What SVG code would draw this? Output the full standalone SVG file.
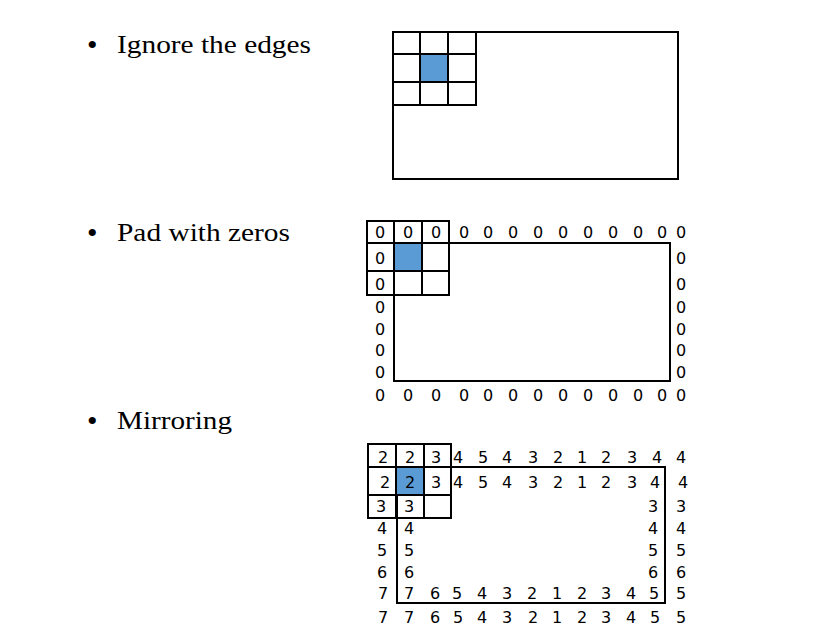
<svg xmlns="http://www.w3.org/2000/svg" width="815" height="638" viewBox="0 0 815 638">
<style>
.lbl{font-family:"Liberation Serif",serif;font-size:25px;fill:#000}
.bul{font-family:"Liberation Serif",serif;font-size:30px;fill:#000}
.d{font-family:"DejaVu Sans",Verdana,sans-serif;font-size:16px;fill:#000;text-anchor:middle}
.ln{fill:none;stroke:#000;stroke-width:2}
.blue{fill:#5b9bd5;stroke:#41719c;stroke-width:1.5}
</style>
<rect width="815" height="638" fill="#fff"/>
<g id="bullets">
<text class="bul" x="87" y="55">•</text>
<text class="lbl" x="117" y="53" textLength="194" lengthAdjust="spacingAndGlyphs">Ignore the edges</text>
<text class="bul" x="87" y="243">•</text>
<text class="lbl" x="117" y="241" textLength="173" lengthAdjust="spacingAndGlyphs">Pad with zeros</text>
<text class="bul" x="87" y="431">•</text>
<text class="lbl" x="117" y="429" textLength="115" lengthAdjust="spacingAndGlyphs">Mirroring</text>
</g>
<g id="panel-ignore">
<rect class="ln" x="393" y="32" width="285" height="147"/>
<rect class="blue" x="420" y="54" width="28" height="28"/>
<path class="ln" d="M393 32H476V105H393ZM420 32V105M448 32V105M393 54H476M393 82H476"/>
</g>
<g id="panel-zeros">
<rect class="ln" x="394" y="243" width="276" height="138"/>
<rect class="blue" x="394" y="243" width="28" height="28"/>
<path class="ln" d="M367 221H449V295H367ZM394 221V295M422 221V295M367 243H449M367 271H449"/>
<g class="d">
<text x="380" y="238">0</text><text x="408" y="238">0</text><text x="436" y="238">0</text><text x="464" y="238">0</text><text x="488" y="238">0</text><text x="513" y="238">0</text><text x="538" y="238">0</text><text x="563" y="238">0</text><text x="588" y="238">0</text><text x="613" y="238">0</text><text x="638" y="238">0</text><text x="662" y="238">0</text><text x="681" y="238">0</text>
<text x="380" y="264">0</text><text x="681" y="264">0</text>
<text x="380" y="290">0</text><text x="681" y="290">0</text>
<text x="380" y="313">0</text><text x="681" y="313">0</text>
<text x="380" y="335">0</text><text x="681" y="335">0</text>
<text x="380" y="356">0</text><text x="681" y="356">0</text>
<text x="380" y="378">0</text><text x="681" y="378">0</text>
<text x="380" y="401">0</text><text x="408" y="401">0</text><text x="436" y="401">0</text><text x="464" y="401">0</text><text x="488" y="401">0</text><text x="513" y="401">0</text><text x="538" y="401">0</text><text x="563" y="401">0</text><text x="588" y="401">0</text><text x="613" y="401">0</text><text x="638" y="401">0</text><text x="662" y="401">0</text><text x="681" y="401">0</text>
</g>
</g>
<g id="panel-mirror">
<rect class="ln" x="397" y="467" width="268" height="136"/>
<rect class="blue" x="396" y="467" width="28" height="28"/>
<path class="ln" d="M368 444H451V518H368ZM396 444V518M424 444V518M368 467H451M368 495H451"/>
<g class="d">
<text x="383" y="463">2</text><text x="410" y="463">2</text><text x="436" y="463">3</text><text x="458" y="463">4</text><text x="483" y="463">5</text><text x="507" y="463">4</text><text x="533" y="463">3</text><text x="558" y="463">2</text><text x="582" y="463">1</text><text x="606" y="463">2</text><text x="632" y="463">3</text><text x="657" y="463">4</text><text x="681" y="463">4</text>
<text x="385" y="488">2</text><text x="410" y="488">2</text><text x="436" y="488">3</text><text x="458" y="488">4</text><text x="483" y="488">5</text><text x="507" y="488">4</text><text x="533" y="488">3</text><text x="558" y="488">2</text><text x="582" y="488">1</text><text x="606" y="488">2</text><text x="632" y="488">3</text><text x="655" y="488">4</text><text x="683" y="488">4</text>
<text x="381" y="512">3</text><text x="409" y="512">3</text><text x="653" y="512">3</text><text x="681" y="512">3</text>
<text x="382" y="534">4</text><text x="409" y="534">4</text><text x="653" y="534">4</text><text x="681" y="534">4</text>
<text x="382" y="556">5</text><text x="409" y="556">5</text><text x="653" y="556">5</text><text x="681" y="556">5</text>
<text x="382" y="578">6</text><text x="409" y="578">6</text><text x="653" y="578">6</text><text x="681" y="578">6</text>
<text x="383" y="599">7</text><text x="409" y="599">7</text><text x="435" y="599">6</text><text x="457" y="599">5</text><text x="482" y="599">4</text><text x="507" y="599">3</text><text x="532" y="599">2</text><text x="557" y="599">1</text><text x="582" y="599">2</text><text x="606" y="599">3</text><text x="631" y="599">4</text><text x="654" y="599">5</text><text x="681" y="599">5</text>
<text x="383" y="623">7</text><text x="409" y="623">7</text><text x="435" y="623">6</text><text x="458" y="623">5</text><text x="482" y="623">4</text><text x="507" y="623">3</text><text x="533" y="623">2</text><text x="557" y="623">1</text><text x="582" y="623">2</text><text x="606" y="623">3</text><text x="631" y="623">4</text><text x="655" y="623">5</text><text x="681" y="623">5</text>
</g>
</g>
</svg>
